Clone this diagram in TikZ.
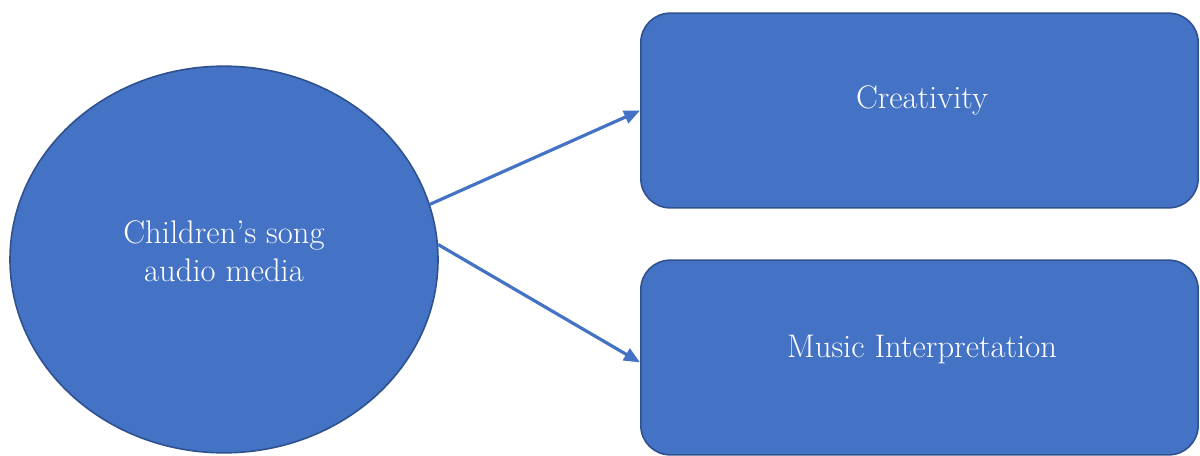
\documentclass[tikz,border=0pt]{standalone}
\usepackage{tikz}
\usetikzlibrary{arrows.meta,shapes.geometric}

\definecolor{boxblue}{HTML}{4472C4}
\definecolor{edgeblue}{HTML}{2F528F}

\tikzset{
	media/.style={ellipse, draw=edgeblue, fill=boxblue, line width=1.2pt, minimum width=321pt, minimum height=290pt, inner sep=0pt},
	outcome/.style={rectangle, rounded corners=22pt, draw=edgeblue, fill=boxblue, line width=1.2pt, minimum width=418pt, minimum height=146pt, inner sep=0pt},
	caption/.style={text=white, align=center, font=\fontsize{24.5}{28.5}\selectfont},
	link/.style={draw=boxblue, line width=2.4pt, -{Triangle[length=12pt,width=10pt]}}
}

\begin{document}
\begin{tikzpicture}[x=0.75pt, y=-0.75pt]
	\useasboundingbox (0,0) rectangle (1200,455);
	% source and the two outcomes
	\node[media] (media) at (224,259.5) {};
	\node[outcome] (creativity) at (919.5,110.5) {};
	\node[outcome] (music) at (919.5,357.5) {};
	% texts sit a little above the middle
	\node[caption] (media-text) at (224,251) {Children’s song\\audio media};
	\node[caption] (creativity-text) at (922,100) {Creativity};
	\node[caption] (music-text) at (922,350) {Music Interpretation};
	% links
	\draw[link] (media.15) -- (creativity.west);
	\draw[link] (media.4) -- (music.181.5);
\end{tikzpicture}
\end{document}
